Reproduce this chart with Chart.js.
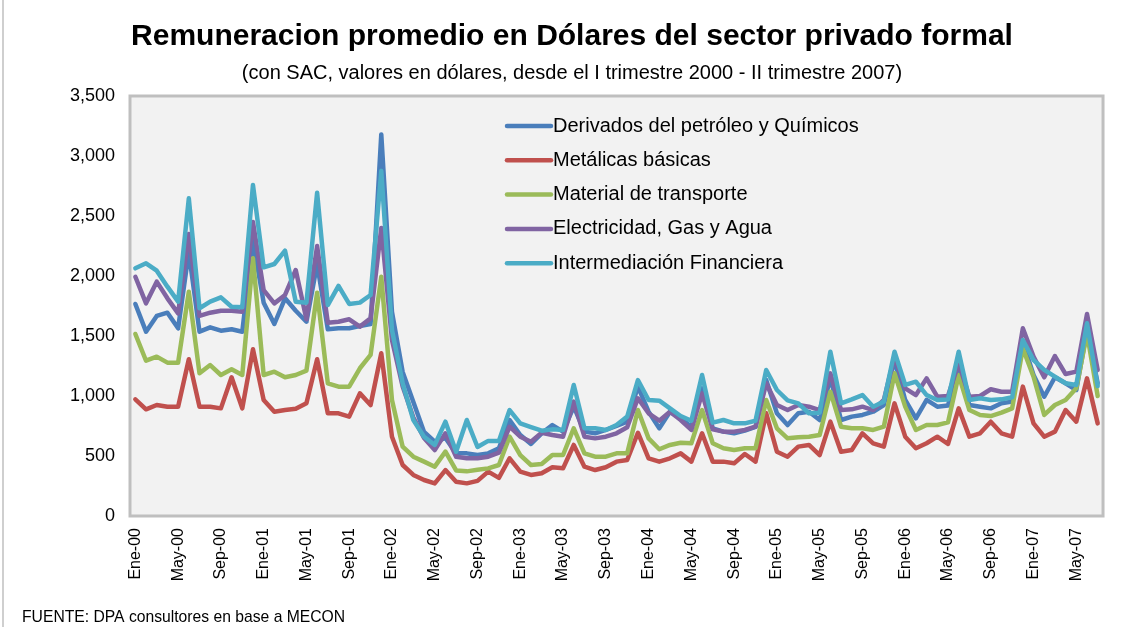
<!DOCTYPE html>
<html>
<head>
<meta charset="utf-8">
<script src="https://cdn.jsdelivr.net/npm/chart.js@4.4.1/dist/chart.umd.min.js"></script>
<style>
  html, body { margin: 0; padding: 0; background: #ffffff; }
  #wrap { width: 1129px; height: 627px; }
</style>
</head>
<body>
<div id="wrap"><canvas id="chartRemuneracion" width="1129" height="627"></canvas></div>
<script>
// Meses y años para las etiquetas del eje X (Ene-00 ... Jul-07)
const meses = ['Ene', 'Feb', 'Mar', 'Abr', 'May', 'Jun', 'Jul', 'Ago', 'Sep', 'Oct', 'Nov', 'Dic'];
const anios = ['00', '01', '02', '03', '04', '05', '06', '07'];
const mesesUltimoAnio = 7;

// Series (USD)
const derivados = [
    1767, 1536, 1667, 1694, 1564, 2200, 1536, 1572, 1544, 1556, 1536, 2300,
    1778, 1600, 1814, 1710, 1619, 2100, 1556, 1564, 1564, 1583, 1600, 3180,
    1700, 1200, 950, 700, 620, 650, 522, 522, 508, 522, 564, 800,
    675, 600, 689, 758, 703, 911, 703, 689, 717, 750, 786, 1078,
    869, 731, 869, 814, 744, 1064, 731, 703, 689, 711, 742, 1133,
    856, 758, 856, 869, 800, 1150, 800, 828, 842, 869, 925, 1300,
    967, 814, 967, 911, 920, 1250, 925, 911, 897, 939, 953, 1450,
    1175, 994, 1156, 1106, 1050, 1550, 1106
];
const metalicas = [
    972, 889, 925, 911, 911, 1306, 911, 911, 897, 1156, 897, 1389,
    967, 869, 883, 893, 939, 1306, 856, 856, 828, 1022, 925, 1356,
    661, 425, 342, 300, 272, 383, 286, 272, 293, 370, 318, 481,
    369, 342, 356, 406, 397, 592, 411, 383, 406, 453, 467, 694,
    481, 453, 481, 522, 453, 689, 453, 453, 439, 517, 453, 856,
    536, 494, 578, 592, 508, 786, 536, 550, 689, 606, 578, 939,
    661, 564, 606, 661, 600, 897, 661, 689, 786, 689, 661, 1078,
    772, 661, 703, 883, 786, 1147, 772
];
const transporte = [
    1517, 1294, 1328, 1278, 1278, 1869, 1189, 1258, 1175, 1222, 1175, 2147,
    1175, 1203, 1156, 1175, 1211, 1861, 1106, 1078, 1078, 1231, 1342, 1994,
    967, 578, 494, 453, 411, 536, 380, 372, 385, 397, 425, 661,
    508, 425, 433, 508, 508, 731, 522, 494, 494, 522, 522, 883,
    647, 556, 592, 611, 606, 883, 606, 564, 550, 564, 564, 967,
    731, 647, 656, 661, 675, 1036, 744, 731, 731, 717, 744, 1189,
    911, 717, 758, 758, 780, 1175, 883, 842, 833, 861, 897, 1397,
    1161, 842, 925, 967, 1064, 1522, 1000
];
const electricidad = [
    1994, 1772, 1953, 1814, 1689, 2350, 1667, 1694, 1711, 1711, 1703, 2450,
    1883, 1772, 1842, 2050, 1639, 2250, 1611, 1619, 1639, 1578, 1647, 2400,
    1467, 1080, 820, 650, 550, 689, 494, 481, 481, 494, 528, 744,
    661, 619, 694, 675, 661, 953, 661, 647, 661, 689, 739, 981,
    856, 794, 869, 800, 717, 1022, 722, 703, 703, 717, 744, 1106,
    925, 883, 925, 911, 883, 1189, 883, 889, 911, 883, 967, 1328,
    1064, 1008, 1147, 994, 1000, 1272, 994, 1000, 1056, 1036, 1036, 1564,
    1328, 1156, 1333, 1183, 1203, 1683, 1217
];
const intermediacion = [
    2064, 2106, 2044, 1911, 1786, 2647, 1731, 1786, 1822, 1744, 1739, 2758,
    2072, 2100, 2211, 1786, 1778, 2694, 1758, 1917, 1767, 1778, 1842, 2876,
    1550, 1106, 800, 661, 592, 786, 536, 800, 575, 626, 626, 883,
    772, 741, 711, 722, 717, 1092, 731, 731, 717, 758, 828, 1133,
    967, 961, 897, 833, 794, 1175, 778, 800, 772, 772, 794, 1217,
    1050, 964, 939, 856, 861, 1369, 939, 972, 1008, 911, 953, 1369,
    1092, 1119, 1008, 967, 970, 1369, 967, 981, 967, 972, 989, 1467,
    1300, 1217, 1161, 1106, 1092, 1606, 1083
];

const nombresSeries = [
    'Derivados del petróleo y Químicos',
    'Metálicas básicas',
    'Material de transporte',
    'Electricidad, Gas y Agua',
    'Intermediación Financiera'
];
const coloresSeries = ['#4a7ebb', '#c0504d', '#9bbb59', '#8064a2', '#4bacc6'];

const yTicks = [0, 500, 1000, 1500, 2000, 2500, 3000, 3500];

// Etiquetas mensuales
const etiquetas = [];
anios.forEach((a, k) => {
    const n = (k === anios.length - 1) ? mesesUltimoAnio : 12;
    for (let m = 0; m < n; m++) etiquetas.push(`${meses[m]}-${a}`);
});

const FONT = '"Liberation Sans", Arial, sans-serif';

// Fondo, marco del área de trazado, leyenda interna y fuente
const decoracion = {
    id: 'decoracion',
    beforeDraw(chart) {
        const { ctx, chartArea: a } = chart;
        ctx.save();
        ctx.fillStyle = '#ffffff';
        ctx.fillRect(0, 0, chart.width, chart.height);
        ctx.fillStyle = '#f2f2f2';
        ctx.fillRect(a.left, a.top, a.right - a.left, a.bottom - a.top);
        ctx.restore();
    },
    afterDatasetsDraw(chart) {
        const { ctx, chartArea: a } = chart;
        ctx.save();
        ctx.strokeStyle = '#bfbfbf';
        ctx.lineWidth = 3;
        ctx.strokeRect(a.left, a.top, a.right - a.left, a.bottom - a.top);

        // marco exterior (izquierda)
        ctx.lineWidth = 1.5;
        ctx.beginPath();
        ctx.moveTo(3, 0);
        ctx.lineTo(3, chart.height);
        ctx.stroke();

        // leyenda
        ctx.font = `20px ${FONT}`;
        ctx.textBaseline = 'middle';
        ctx.lineCap = 'round';
        chart.data.datasets.forEach((ds, i) => {
            const y = a.top + 30 + i * 34.3;
            const x = a.left + 377;
            ctx.strokeStyle = ds.borderColor;
            ctx.lineWidth = 4.5;
            ctx.beginPath();
            ctx.moveTo(x, y);
            ctx.lineTo(x + 44, y);
            ctx.stroke();
            ctx.fillStyle = '#000000';
            ctx.fillText(ds.label, x + 46, y);
        });

        // fuente
        ctx.font = `15.7px ${FONT}`;
        ctx.textBaseline = 'alphabetic';
        ctx.fillText('FUENTE: DPA consultores en base a MECON', 22, 622);
        ctx.restore();
    }
};

function crearGrafico() {
    const series = [derivados, metalicas, transporte, electricidad, intermediacion];
    const datasets = series.map((s, i) => ({
        label: nombresSeries[i],
        data: s,
        borderColor: coloresSeries[i],
        backgroundColor: coloresSeries[i],
        borderWidth: 4.5,
        borderJoinStyle: 'round',
        borderCapStyle: 'round',
        pointRadius: 0,
        tension: 0,
        order: series.length - i
    }));

    const ctx = document.getElementById('chartRemuneracion').getContext('2d');
    return new Chart(ctx, {
        type: 'line',
        data: { labels: etiquetas, datasets: datasets },
        plugins: [decoracion],
        options: {
            responsive: false,
            animation: false,
            layout: { padding: { left: 36, right: 21, top: 0, bottom: 0 } },
            plugins: {
                legend: { display: false },
                tooltip: { enabled: false },
                title: {
                    display: true,
                    text: 'Remuneracion promedio en Dólares del sector privado formal',
                    color: '#000000',
                    font: { family: FONT, size: 30, weight: 'bold', lineHeight: 1.2 },
                    padding: { top: 19, bottom: 4 }
                },
                subtitle: {
                    display: true,
                    text: '(con SAC, valores en dólares, desde el I trimestre 2000 - II trimestre 2007)',
                    color: '#000000',
                    font: { family: FONT, size: 20, lineHeight: 1.2 },
                    padding: { top: 2, bottom: 11 }
                }
            },
            scales: {
                x: {
                    offset: true,
                    grid: { display: false, drawTicks: false },
                    border: { display: false },
                    ticks: {
                        autoSkip: false,
                        maxRotation: 90,
                        minRotation: 90,
                        padding: 12,
                        color: '#000000',
                        font: { family: FONT, size: 16 },
                        callback: function(value, index) {
                            return index % 4 === 0 ? this.getLabelForValue(value) : '';
                        }
                    },
                    afterFit: (scale) => { scale.height = 111; }
                },
                y: {
                    min: 0,
                    max: 3500,
                    grid: { display: false, drawTicks: false },
                    border: { display: false },
                    afterBuildTicks: (scale) => { scale.ticks = yTicks.map(v => ({ value: v })); },
                    ticks: {
                        padding: 15,
                        color: '#000000',
                        font: { family: FONT, size: 18 },
                        callback: (v) => v.toLocaleString('en-US')
                    },
                    afterFit: (scale) => { scale.width = 94; }
                }
            }
        }
    });
}

document.addEventListener('DOMContentLoaded', crearGrafico);
</script>
</body>
</html>
